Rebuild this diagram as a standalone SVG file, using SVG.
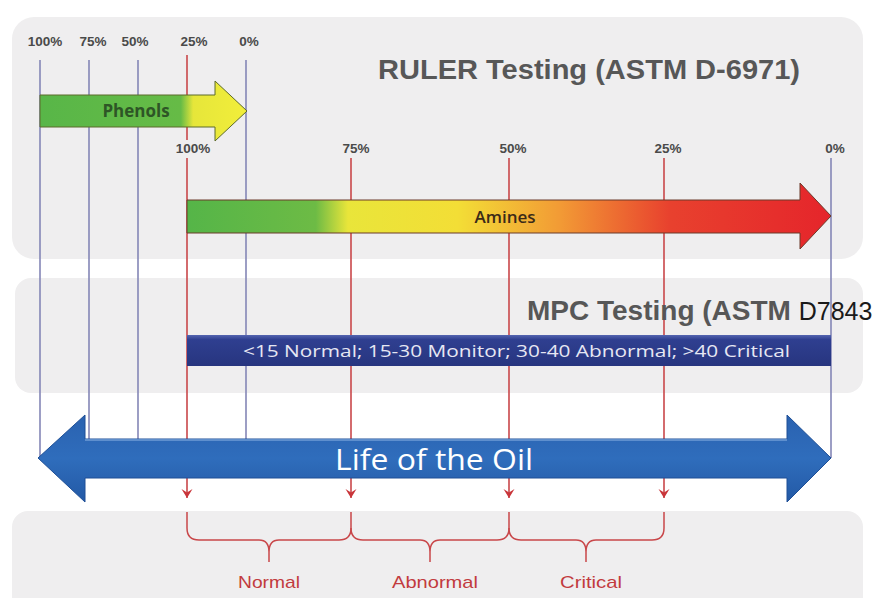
<svg xmlns="http://www.w3.org/2000/svg" width="885" height="598" viewBox="0 0 885 598">
<style>
.panel{fill:#efeeef}
.vb{stroke:#8486b6;stroke-width:1.6;fill:none}
.vr{stroke:#c9474a;stroke-width:1.6;fill:none}
.pct{font-family:"Liberation Sans",Arial,sans-serif;font-weight:bold;font-size:13.5px;fill:#4a4a4a;text-anchor:middle}
.title{font-family:"Liberation Sans",Arial,sans-serif;font-weight:bold;font-size:28px;fill:#575757}
.brace{stroke:#c9474a;stroke-width:1.5;fill:none}
.blab{font-family:"Liberation Sans",Arial,sans-serif;font-size:17px;fill:#c23b3e;text-anchor:middle}
</style>
<defs>
<linearGradient id="gPhen" x1="40" y1="0" x2="247" y2="0" gradientUnits="userSpaceOnUse">
<stop offset="0" stop-color="#58b648"/><stop offset="0.68" stop-color="#66bb46"/><stop offset="0.74" stop-color="#e6e63a"/><stop offset="1" stop-color="#f2ee3a"/>
</linearGradient>
<linearGradient id="gAm" x1="187" y1="0" x2="831" y2="0" gradientUnits="userSpaceOnUse">
<stop offset="0" stop-color="#55b548"/><stop offset="0.2" stop-color="#6dbb45"/><stop offset="0.25" stop-color="#e9e53a"/><stop offset="0.42" stop-color="#f3de36"/><stop offset="0.58" stop-color="#f29a35"/><stop offset="0.75" stop-color="#e8412e"/><stop offset="1" stop-color="#e5252b"/>
</linearGradient>
<linearGradient id="gMpc" x1="0" y1="335" x2="0" y2="366" gradientUnits="userSpaceOnUse">
<stop offset="0" stop-color="#5565b0"/><stop offset="0.15" stop-color="#2f3f90"/><stop offset="1" stop-color="#27357f"/>
</linearGradient>
<linearGradient id="gLife" x1="0" y1="415" x2="0" y2="502" gradientUnits="userSpaceOnUse">
<stop offset="0" stop-color="#2a62b0"/><stop offset="0.5" stop-color="#2f6dbc"/><stop offset="1" stop-color="#2359a5"/>
</linearGradient>
<marker id="ah" viewBox="0 0 12 12" refX="11" refY="6" markerWidth="12" markerHeight="12" markerUnits="userSpaceOnUse" orient="auto">
<path d="M2 0.5 L11 6 L2 11.5 L5.5 6 Z" fill="#c9353a"/>
</marker>
</defs>
<rect width="885" height="598" fill="#ffffff"/>
<g id="panels">
<rect class="panel" x="12" y="17" width="851" height="242" rx="22"/>
<rect class="panel" x="15" y="278" width="848" height="115" rx="16"/>
<rect class="panel" x="12" y="511" width="851" height="110" rx="16"/>
</g>
<g id="connectors">
<line class="vb" x1="40" y1="60" x2="40" y2="458"/>
<line class="vb" x1="89" y1="60" x2="89" y2="445"/>
<line class="vb" x1="138" y1="60" x2="138" y2="445"/>
<line class="vb" x1="246" y1="60" x2="246" y2="445"/>
<line class="vb" x1="831" y1="158" x2="831" y2="458"/>
<line class="vr" x1="187" y1="55" x2="187" y2="140"/>
<line class="vr" x1="187" y1="158" x2="187" y2="498" marker-end="url(#ah)"/>
<line class="vr" x1="351" y1="158" x2="351" y2="498" marker-end="url(#ah)"/>
<line class="vr" x1="509" y1="158" x2="509" y2="498" marker-end="url(#ah)"/>
<line class="vr" x1="664" y1="158" x2="664" y2="498" marker-end="url(#ah)"/>
</g>
<g id="top-scale">
<text class="pct" x="45" y="46">100%</text>
<text class="pct" x="93" y="46">75%</text>
<text class="pct" x="135" y="46">50%</text>
<text class="pct" x="194" y="46">25%</text>
<text class="pct" x="249" y="46">0%</text>
</g>
<g id="ruler-title">
<text class="title" x="378" y="79" textLength="422" lengthAdjust="spacingAndGlyphs">RULER Testing (ASTM D-6971)</text>
</g>
<g id="phenols">
<path d="M40 95 L215 95 L215 81 L247 111 L215 141 L215 127 L40 127 Z" fill="url(#gPhen)" stroke="#5c6a2a" stroke-width="1"/>
<text x="136" y="117" font-family="'Open Sans','Liberation Sans',sans-serif" font-weight="bold" font-size="17" fill="#2e5526" text-anchor="middle">Phenols</text>
</g>
<g id="amine-scale">
<text class="pct" x="193" y="153">100%</text>
<text class="pct" x="356" y="153">75%</text>
<text class="pct" x="513" y="153">50%</text>
<text class="pct" x="668" y="153">25%</text>
<text class="pct" x="835" y="153">0%</text>
</g>
<g id="amines">
<path d="M187 200 L800 200 L800 183 L831 216 L800 249 L800 233 L187 233 Z" fill="url(#gAm)" stroke="#6a3a2a" stroke-width="1"/>
<text x="505" y="223" font-family="'Open Sans','Liberation Sans',sans-serif" font-weight="600" font-size="17" fill="#3b2a18" text-anchor="middle">Amines</text>
</g>
<g id="mpc-title">
<text x="527" y="320" font-family="'Liberation Sans',Arial,sans-serif" font-weight="bold" font-size="28" fill="#575757">MPC Testing (ASTM <tspan font-weight="normal" font-size="25" fill="#1a1a1a">D7843</tspan></text>
</g>
<g id="mpc-bar">
<rect x="187" y="335" width="644" height="31" fill="url(#gMpc)"/>
<text x="243" y="357" textLength="547" lengthAdjust="spacingAndGlyphs" font-family="'Open Sans','Liberation Sans',sans-serif" font-size="17" fill="#e6e7f3">&lt;15 Normal; 15-30 Monitor; 30-40 Abnormal; &gt;40 Critical</text>
</g>
<g id="life">
<path d="M38 458 L85 415 L85 439 L787 439 L787 415 L831 458 L787 502 L787 478 L85 478 L85 502 Z" fill="url(#gLife)" stroke="#1e4f96" stroke-width="1"/>
<line x1="85" y1="440" x2="787" y2="440" stroke="#6f9dd6" stroke-width="1.5"/>
<text x="434" y="470" font-family="'Open Sans','Liberation Sans',sans-serif" font-size="29" fill="#ffffff" text-anchor="middle" textLength="198" lengthAdjust="spacingAndGlyphs">Life of the Oil</text>
</g>
<g id="braces">
<path class="brace" d="M187 512 L187 528 Q187 540 199 540 L259 540 Q269 540 269 552 L269 562 M269 552 Q269 540 279 540 L339 540 Q351 540 351 528 L351 512"/>
<path class="brace" d="M351 528 Q351 540 363 540 L420 540 Q430 540 430 552 L430 562 M430 552 Q430 540 440 540 L497 540 Q509 540 509 528 L509 512"/>
<path class="brace" d="M509 528 Q509 540 521 540 L576 540 Q586 540 586 552 L586 562 M586 552 Q586 540 596 540 L652 540 Q664 540 664 528 L664 512"/>
</g>
<g id="labels">
<text class="blab" x="269" y="588" textLength="62" lengthAdjust="spacingAndGlyphs">Normal</text>
<text class="blab" x="435" y="588" textLength="86" lengthAdjust="spacingAndGlyphs">Abnormal</text>
<text class="blab" x="591" y="588" textLength="62" lengthAdjust="spacingAndGlyphs">Critical</text>
</g>
</svg>
